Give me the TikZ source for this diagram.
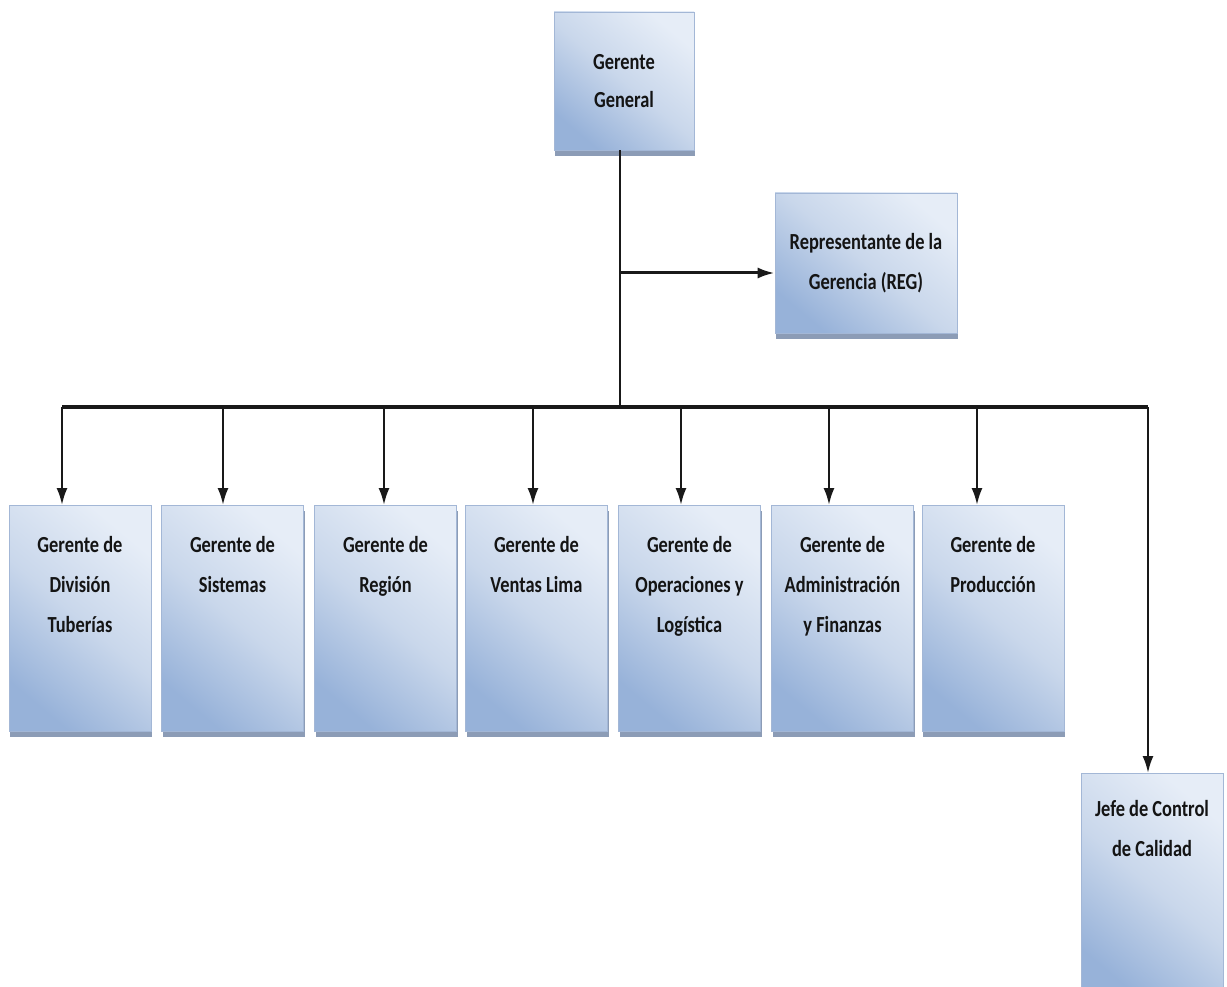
\documentclass[tikz,border=0pt]{standalone}
\usepackage{fontspec}
\newfontfamily\boxfont[FakeStretch=0.8]{Carlito}
\usetikzlibrary{arrows.meta,shadows}
\definecolor{boxlight}{HTML}{E6EDF7}
\definecolor{boxmid}{HTML}{C9D7EB}
\definecolor{boxdark}{HTML}{97B2D9}
\definecolor{boxedge}{HTML}{A3B7D6}
\definecolor{boxshadow}{HTML}{8C9CB6}
\tikzset{
  orgbox/.style={draw=boxedge, line width=0.6pt, inner sep=0pt,
    top color=boxlight, bottom color=boxdark, middle color=boxmid, shading angle=-40,
    drop shadow={shadow xshift=1pt, shadow yshift=-6pt, fill=boxshadow, opacity=1}},
  boxtext/.style={font=\boxfont\bfseries\fontsize{23}{40}\selectfont, text=black!92, align=center},
  lowbox/.style={orgbox, minimum width=142pt, minimum height=226pt, anchor=north},
  toplabel/.style={boxtext, anchor=north, yshift=-31pt, inner sep=0pt},
  conn/.style={line width=2.3pt, draw=black!90},
  arr/.style={conn, -{Latex[length=17pt,width=11pt]}}
}
\begin{document}
\begin{tikzpicture}[x=1pt,y=-1pt]
\clip (0,0) rectangle (1227,987);
\fill[white] (0,0) rectangle (1227,987);

\node[orgbox, boxtext, minimum width=140pt, minimum height=138pt] (gg) at (624,81) {Gerente\\[-2pt]General};
\node[orgbox, boxtext, minimum width=182pt, minimum height=140pt] (reg) at (866,263) {Representante de la\\Gerencia (REG)};

\node[lowbox, label={[toplabel]north:Gerente de\\División\\Tuberías}] (b1) at (80,505) {};
\node[lowbox, label={[toplabel]north:Gerente de\\Sistemas}] (b2) at (232.5,505) {};
\node[lowbox, label={[toplabel]north:Gerente de\\Región}] (b3) at (385.5,505) {};
\node[lowbox, label={[toplabel]north:Gerente de\\Ventas Lima}] (b4) at (536.5,505) {};
\node[lowbox, label={[toplabel]north:Gerente de\\Operaciones y\\Logística}] (b5) at (689.5,505) {};
\node[lowbox, label={[toplabel]north:Gerente de\\Administración\\y Finanzas}] (b6) at (842.5,505) {};
\node[lowbox, label={[toplabel]north:Gerente de\\Producción}] (b7) at (993,505) {};
\node[lowbox, label={[toplabel, yshift=4pt]north:Jefe de Control\\de Calidad}] (jc) at (1152,773) {};

\coordinate (trunk) at (620,407);
\coordinate (busL) at (62,407);
\coordinate (busR) at (1148,407);
\coordinate (regJ) at (620,273);

\draw[conn] (gg.south -| trunk) -- (trunk);
\draw[arr, line width=3pt] (regJ) -- (regJ -| reg.west);
\draw[conn, line width=3.2pt] (busL) -- (busR);

\draw[arr] (busL) -- ([xshift=-18pt]b1.north);
\draw[arr] (busL -| 223,0) -- ([xshift=-9.5pt]b2.north);
\draw[arr] (busL -| 384,0) -- ([xshift=-1.5pt]b3.north);
\draw[arr] (busL -| 533,0) -- ([xshift=-3.5pt]b4.north);
\draw[arr] (busL -| 681,0) -- ([xshift=-8.5pt]b5.north);
\draw[arr] (busL -| 829,0) -- ([xshift=-13.5pt]b6.north);
\draw[arr] (busL -| 977,0) -- ([xshift=-16pt]b7.north);
\draw[arr] (busR) -- ([xshift=-4pt]jc.north);
\end{tikzpicture}
\end{document}
